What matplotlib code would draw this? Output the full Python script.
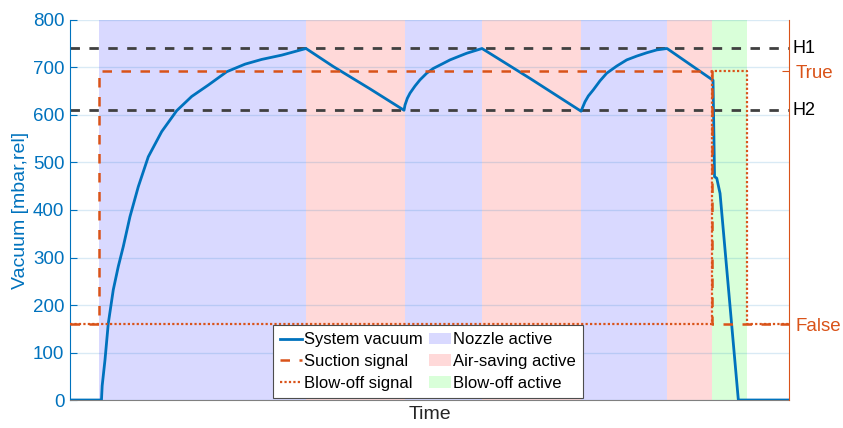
import matplotlib.pyplot as plt
import matplotlib.transforms as mtransforms
from matplotlib.patches import Patch

plt.rcParams['font.family'] = ['Liberation Sans', 'DejaVu Sans']

blue = '#0072BD'
orange = '#D95319'
dark = '#404040'

# time axis (arbitrary units, no tick labels)
t_end = 7.19

# system vacuum [mbar,rel]
vac_t = [0.0, 0.315, 0.322, 0.35, 0.383, 0.433, 0.483, 0.533, 0.60, 0.683, 0.783, 0.917, 1.067, 1.217,
         1.383, 1.567, 1.75, 1.917, 2.117, 2.36,
         2.633, 3.0, 3.34,
         3.35, 3.373, 3.40, 3.45, 3.50, 3.567, 3.633, 3.717, 3.80, 3.883, 3.967, 4.12,
         4.6, 5.11,
         5.15, 5.183, 5.233, 5.30, 5.367, 5.467, 5.567, 5.667, 5.767, 5.867, 5.97,
         6.43, 6.445, 6.467, 6.50, 6.683, 7.19]
vac = [0, 0, 30, 84, 161, 232, 281, 323, 386, 449, 512, 565, 609, 639,
       663, 691, 707, 717, 726, 740,
       702, 655, 610,
       621, 635, 646, 661, 674, 688, 698, 707, 716, 723, 730, 740,
       677, 608,
       628, 640, 653, 672, 688, 703, 716, 724, 731, 737, 740,
       673, 470, 467, 435, 0, 0]

# digital signals (0 = False, 1 = True)
suction_t = [0.0, 0.29, 0.29, 6.42, 6.42, t_end]
suction = [0, 0, 1, 1, 0, 0]
blowoff_t = [0.0, 6.42, 6.42, 6.77, 6.77, t_end]
blowoff = [0, 0, 1, 1, 0, 0]

# thresholds
h1 = 740
h2 = 610

# phases
nozzle_spans = [(0.29, 2.36), (3.35, 4.12), (5.11, 5.97)]
airsave_spans = [(2.36, 3.35), (4.12, 5.11), (5.97, 6.42)]
blowoff_spans = [(6.42, 6.77)]

c_noz = (217/255, 217/255, 1.0)
c_air = (1.0, 217/255, 217/255)
c_blo = (217/255, 1.0, 217/255)

fig = plt.figure(figsize=(8.43, 4.28), dpi=100)
ax = fig.add_axes([0.083, 0.0654, 0.853, 0.8879])

for a, b in nozzle_spans:
    ax.axvspan(a, b, color=c_noz, lw=0, zorder=0.5)
for a, b in airsave_spans:
    ax.axvspan(a, b, color=c_air, lw=0, zorder=0.5)
for a, b in blowoff_spans:
    ax.axvspan(a, b, color=c_blo, lw=0, zorder=0.5)

ax.axhline(h1, color=dark, lw=2, ls=(0, (3.4, 3.4)), zorder=1.8)
ax.axhline(h2, color=dark, lw=2, ls=(0, (3.4, 3.4)), zorder=1.8)

l_vac, = ax.plot(vac_t, vac, color=blue, lw=2, zorder=3)

ax.set_xlim(0, t_end)
ax.set_ylim(0, 800)
ax.set_yticks(range(0, 801, 100))
ax.set_xticks([])
ax.grid(axis='y', color=blue, alpha=0.15, lw=1)
ax.tick_params(axis='y', direction='in', colors=blue, labelsize=13.5, length=5, pad=4)
ax.spines['left'].set_color(blue)
ax.spines['top'].set_visible(False)
ax.spines['right'].set_visible(False)
ax.spines['bottom'].set_color('#808080')
ax.set_ylabel('Vacuum [mbar,rel]', color=blue, fontsize=14, labelpad=3)
ax.set_xlabel('Time', color='#262626', fontsize=14, labelpad=4)

trans = mtransforms.blended_transform_factory(ax.transAxes, ax.transData)
ax.text(1.005, h1, 'H1', transform=trans, va='center', ha='left', fontsize=13, color='black')
ax.text(1.005, h2, 'H2', transform=trans, va='center', ha='left', fontsize=13, color='black')

ax2 = ax.twinx()
lo = -160 / 532
ax2.set_ylim(lo, lo + 800 / 532)
l_suc, = ax2.plot(suction_t, suction, color=orange, lw=1.8, ls=(0, (3.8, 3.8)))
l_blo, = ax2.plot(blowoff_t, blowoff, color=orange, lw=1.6, ls=(0, (1, 1)))
ax2.set_yticks([0, 1])
ax2.set_yticklabels(['False', 'True'])
ax2.tick_params(axis='y', direction='in', colors=orange, labelsize=13.5, length=5, pad=5)
ax2.spines['right'].set_color(orange)
ax2.spines['left'].set_visible(False)
ax2.spines['top'].set_visible(False)
ax2.spines['bottom'].set_visible(False)

handles = [l_vac, l_suc, l_blo,
           Patch(facecolor=c_noz, edgecolor='none'),
           Patch(facecolor=c_air, edgecolor='none'),
           Patch(facecolor=c_blo, edgecolor='none')]
labels = ['System vacuum', 'Suction signal', 'Blow-off signal',
          'Nozzle active', 'Air-saving active', 'Blow-off active']
leg = ax2.legend(handles, labels, ncol=2, loc='lower center', bbox_to_anchor=(0.498, 0.006),
                 fontsize=12, frameon=True, fancybox=False, framealpha=1, edgecolor='#4d4d4d',
                 handlelength=1.3, handletextpad=0.15, columnspacing=0.35, labelspacing=0.4,
                 borderpad=0.42, borderaxespad=0)
leg.get_frame().set_linewidth(0.8)

fig.savefig('out.png', dpi=100)
